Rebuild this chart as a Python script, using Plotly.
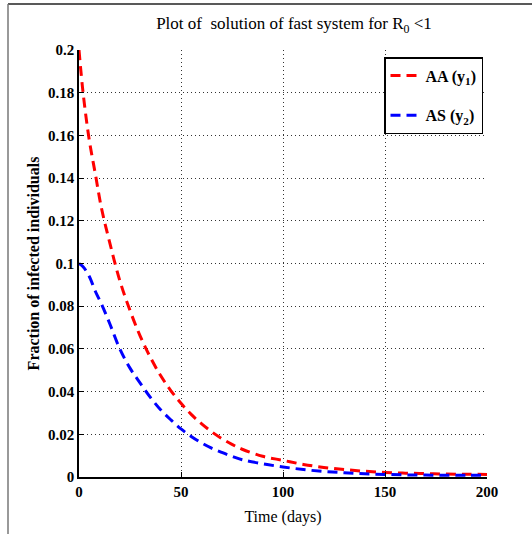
import plotly.graph_objects as go

t = [0, 2, 5, 8, 11, 15, 20, 25, 30, 35, 40, 45, 50, 55, 60, 65, 70, 75, 80, 90,
     100, 110, 120, 130, 140, 150, 160, 170, 180, 190, 200]
aa_y1 = [0.200, 0.180, 0.158, 0.142, 0.126, 0.110, 0.092, 0.078, 0.066, 0.056, 0.0475,
         0.0405, 0.0345, 0.0293, 0.025, 0.0212, 0.018, 0.0153, 0.013, 0.0097,
         0.0078, 0.0059, 0.0045, 0.0035, 0.0027, 0.0021, 0.0018, 0.0016, 0.0014, 0.0013, 0.0012]
as_y2 = [0.100, 0.0985, 0.094, 0.087, 0.081, 0.072, 0.060, 0.051, 0.044, 0.0373, 0.0315,
         0.0268, 0.0225, 0.019, 0.016, 0.0135, 0.0115, 0.0097, 0.0081, 0.0062,
         0.0047, 0.0035, 0.0026, 0.002, 0.0015, 0.0012, 0.001, 0.0009, 0.0008, 0.0008, 0.0008]
x_ticks = [0, 50, 100, 150, 200]
y_ticks = [0, 0.02, 0.04, 0.06, 0.08, 0.1, 0.12, 0.14, 0.16, 0.18, 0.2]
y_ticklabels = ["0", "0.02", "0.04", "0.06", "0.08", "0.1", "0.12", "0.14", "0.16", "0.18", "0.2"]

SERIF = "Liberation Serif"

fig = go.Figure()
fig.add_trace(go.Scatter(x=t, y=aa_y1, mode="lines", name="AA (y<sub>1</sub>)", legendgroup="a",
                         line=dict(color="#ff0000", width=3, dash="10px,6px", shape="spline")))
fig.add_trace(go.Scatter(x=t, y=as_y2, mode="lines", name="AS (y<sub>2</sub>)", legendgroup="b",
                         line=dict(color="#0000ff", width=3, dash="10px,6px", shape="spline")))

L, R, T, B = 79, 487, 50, 477
W, H = 532, 534
pw, ph = R - L, B - T

def px2paper(px, py):
    return (px - L) / pw, (B - py) / ph

x0, y0 = px2paper(8, 4)
x1, _ = px2paper(532, 4)
_, yb = px2paper(8, 534)
fig.add_shape(type="line", xref="paper", yref="paper", x0=x0, x1=x1, y0=y0, y1=y0,
              line=dict(color="#222222", width=1.5))
fig.add_shape(type="line", xref="paper", yref="paper", x0=x0, x1=x0, y0=y0, y1=yb,
              line=dict(color="#777777", width=1.5))

fig.update_layout(
    width=W, height=H,
    margin=dict(l=L, r=W - R, t=T, b=H - B),
    paper_bgcolor="white", plot_bgcolor="white",
    title=dict(text="Plot of  solution of fast system for R<sub>0</sub> <1",
               x=294 / W, xanchor="center", y=1 - 23 / H, yanchor="middle",
               font=dict(family=SERIF, size=17, color="black")),
    font=dict(family=SERIF, color="black"),
    legend=dict(x=1 - 4 / pw, xanchor="right", y=1 - 7 / ph, yanchor="top",
                bgcolor="white", bordercolor="black", borderwidth=1.5,
                font=dict(family=SERIF, size=16, color="black", weight="bold"),
                itemwidth=30, tracegroupgap=16),
    showlegend=True,
)
fig.update_xaxes(range=[0, 200], tickvals=x_ticks, ticktext=[str(v) for v in x_ticks],
                 showline=True, linecolor="black", linewidth=1.5, mirror=False,
                 ticks="inside", ticklen=5, tickcolor="black",
                 showgrid=True, gridcolor="#333333", griddash="1px,3px", gridwidth=1,
                 zeroline=False,
                 tickfont=dict(family=SERIF, size=15, color="black", weight="bold"),
                 title=dict(text="Time (days)", font=dict(family=SERIF, size=16, color="black"),
                            standoff=12))
fig.update_yaxes(range=[0, 0.2], tickvals=y_ticks, ticktext=y_ticklabels,
                 showline=True, linecolor="black", linewidth=1.5, mirror=False,
                 ticks="inside", ticklen=5, tickcolor="black",
                 showgrid=True, gridcolor="#333333", griddash="1px,3px", gridwidth=1,
                 zeroline=False,
                 tickfont=dict(family=SERIF, size=15, color="black", weight="bold"),
                 title=dict(text="Fraction of infected individuals",
                            font=dict(family=SERIF, size=16, color="black", weight="bold"),
                            standoff=4))

fig.write_html("out.html")
